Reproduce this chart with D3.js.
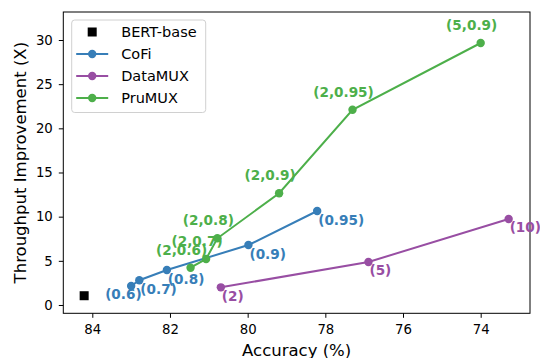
<!DOCTYPE html>
<html>
<head>
<meta charset="utf-8">
<script src="https://cdn.jsdelivr.net/npm/d3@7"></script>
<style>
  body { margin: 0; background: #fff; }
  text { font-family: "DejaVu Sans", sans-serif; }
</style>
</head>
<body>
<div id="chart"></div>
<script>
// data
var bert = [{acc: 84.21, tp: 1.05}]

var cofiAcc = [83.0, 82.79, 82.08, 79.98, 78.21]
var cofiTp = [2.15, 2.8, 3.96, 6.79, 10.64]
var cofiLabels = ["(0.6)", "(0.7)", "(0.8)", "(0.9)", "(0.95)"]

var dmuxAcc = [80.69, 76.89, 73.28]
var dmuxTp = [2.0, 4.87, 9.74]
var dmuxLabels = ["(2)", "(5)", "(10)"]

var prumuxAcc = [81.47, 81.07, 80.78, 79.19, 77.30, 74.0]
var prumuxTp = [4.22, 5.21, 7.55, 12.65, 22.1, 29.66]
var prumuxLabels = ["(2,0.6)", "(2,0.7)", "(2,0.8)", "(2,0.9)", "(2,0.95)", "(5,0.9)"]

var xTicks = [84, 82, 80, 78, 76, 74]
var yTicks = [0, 5, 10, 15, 20, 25, 30]

var series = [
  {name: "CoFi", color: "#377eb8", acc: cofiAcc, tp: cofiTp, labels: cofiLabels},
  {name: "DataMUX", color: "#984ea3", acc: dmuxAcc, tp: dmuxTp, labels: dmuxLabels},
  {name: "PruMUX", color: "#4daf4a", acc: prumuxAcc, tp: prumuxTp, labels: prumuxLabels}
]

var W = 540, H = 358
var margin = {top: 12, right: 10, bottom: 44.7, left: 63.3},
    width = W - margin.left - margin.right,
    height = H - margin.top - margin.bottom

var svg = d3.select("#chart")
  .append("svg")
    .attr("width", W)
    .attr("height", H)
  .append("g")
    .attr("transform", "translate(" + margin.left + "," + margin.top + ")")

// reversed x axis (accuracy decreases to the right)
var x = d3.scaleLinear()
  .domain([84.747, 72.73])
  .range([0, width])

var y = d3.scaleLinear()
  .domain([-0.94, 33.17])
  .range([height, 0])

svg.append("g")
  .attr("transform", "translate(0," + height + ")")
  .call(d3.axisBottom(x).tickValues(xTicks).tickSize(4.5).tickPadding(7).tickFormat(d3.format("d")))
svg.append("g")
  .call(d3.axisLeft(y).tickValues(yTicks).tickSize(4.5).tickPadding(6).tickFormat(d3.format("d")))

svg.selectAll(".domain").remove()
svg.selectAll(".tick line").attr("stroke", "#000").attr("stroke-width", 1)
svg.selectAll(".tick text")
  .attr("fill", "#000")
  .style("font-size", "13.3px")
  .style("font-family", "DejaVu Sans, sans-serif")

// frame
svg.append("rect")
  .attr("width", width)
  .attr("height", height)
  .attr("fill", "none")
  .attr("stroke", "#000")
  .attr("stroke-width", 1)

// axis labels
svg.append("text")
  .attr("x", width / 2)
  .attr("y", height + 42.5)
  .attr("text-anchor", "middle")
  .style("font-size", "16.5px")
  .text("Accuracy (%)")

svg.append("text")
  .attr("transform", "translate(" + (-37) + "," + (height / 2) + ") rotate(-90)")
  .attr("text-anchor", "middle")
  .style("font-size", "16.5px")
  .text("Throughput Improvement (X)")

// BERT-base
svg.selectAll(".bert")
  .data(bert)
  .enter()
  .append("rect")
    .attr("x", function(d) { return x(d.acc) - 4.5 })
    .attr("y", function(d) { return y(d.tp) - 4.5 })
    .attr("width", 9)
    .attr("height", 9)
    .attr("fill", "#000")

var line = d3.line()
  .x(function(d) { return x(d.acc) })
  .y(function(d) { return y(d.tp) })

// label placement per series (style only)
function labelPos(s, i, px, py) {
  if (s.name == "PruMUX") return {x: px - 9, y: py - 13, anchor: "middle"}
  if (s.name == "CoFi" && i == 0) return {x: px - 26, y: py + 13, anchor: "start"}
  return {x: px + 1, y: py + 13.5, anchor: "start"}
}

series.forEach(function(s) {
  var pts = s.acc.map(function(a, i) { return {acc: a, tp: s.tp[i], label: s.labels[i]} })

  svg.append("path")
    .datum(pts)
    .attr("d", line)
    .attr("fill", "none")
    .attr("stroke", s.color)
    .attr("stroke-width", 2)

  svg.selectAll(null)
    .data(pts)
    .enter()
    .append("circle")
      .attr("cx", function(d) { return x(d.acc) })
      .attr("cy", function(d) { return y(d.tp) })
      .attr("r", 4.2)
      .attr("fill", s.color)

  svg.selectAll(null)
    .data(pts)
    .enter()
    .append("text")
      .each(function(d, i) {
        var p = labelPos(s, i, x(d.acc), y(d.tp))
        d3.select(this)
          .attr("x", p.x)
          .attr("y", p.y)
          .attr("text-anchor", p.anchor)
      })
      .attr("fill", s.color)
      .style("font-size", "13.6px")
      .style("font-weight", "bold")
      .text(function(d) { return d.label })
})

// legend
var legend = svg.append("g")
  .attr("transform", "translate(" + (71.7 - margin.left) + "," + (20 - margin.top) + ")")

legend.append("rect")
  .attr("width", 134)
  .attr("height", 92.5)
  .attr("rx", 3)
  .attr("fill", "#fff")
  .attr("fill-opacity", 0.8)
  .attr("stroke", "#d0d0d0")
  .attr("stroke-width", 1)

var legendItems = [{name: "BERT-base", color: "#000", square: true}].concat(series)

var item = legend.selectAll(".item")
  .data(legendItems)
  .enter()
  .append("g")
    .attr("transform", function(d, i) { return "translate(0," + (12 + i * 22) + ")" })

item.filter(function(d) { return !d.square })
  .append("line")
    .attr("x1", 4.5)
    .attr("x2", 36.5)
    .attr("stroke", function(d) { return d.color })
    .attr("stroke-width", 2)

item.filter(function(d) { return !d.square })
  .append("circle")
    .attr("cx", 20.5)
    .attr("r", 4.2)
    .attr("fill", function(d) { return d.color })

item.filter(function(d) { return d.square })
  .append("rect")
    .attr("x", 16)
    .attr("y", -4.5)
    .attr("width", 9)
    .attr("height", 9)
    .attr("fill", "#000")

item.append("text")
  .attr("x", 49.5)
  .attr("dy", "0.36em")
  .style("font-size", "14.5px")
  .text(function(d) { return d.name })
</script>
</body>
</html>
